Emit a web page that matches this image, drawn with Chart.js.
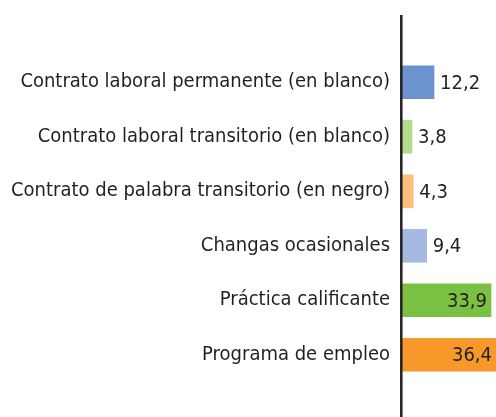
<!DOCTYPE html>
<html>
<head>
<meta charset="utf-8">
<script src="https://cdn.jsdelivr.net/npm/chart.js@4/dist/chart.umd.min.js"></script>
<style>
  html, body { margin: 0; padding: 0; background: #fff; }
  #wrap { width: 496px; height: 417px; }
</style>
</head>
<body>
<div id="wrap"><canvas id="chart"></canvas></div>
<script>
const categories = [
  'Contrato laboral permanente (en blanco)',
  'Contrato laboral transitorio (en blanco)',
  'Contrato de palabra transitorio (en negro)',
  'Changas ocasionales',
  'Práctica calificante',
  'Programa de empleo',
];
const values = [12.2, 3.8, 4.3, 9.4, 33.9, 36.4];
const valueLabels = ['12,2', '3,8', '4,3', '9,4', '33,9', '36,4'];
const barColors = ['#6b93cf', '#b5dc8c', '#fec07d', '#a5b9e1', '#7ac143', '#f7982a'];

const FONT = '"Liberation Sans Narrow", "DejaVu Sans Condensed", sans-serif';
const TEXT = '#231f20';

// vertical axis line, taller than the bars area
const axisLine = {
  id: 'axisLine',
  afterDatasetsDraw(chart) {
    const ctx = chart.ctx;
    const x = chart.scales.x.getPixelForValue(0) - 0.7;
    ctx.save();
    ctx.strokeStyle = TEXT;
    ctx.lineWidth = 2.5;
    ctx.beginPath();
    ctx.moveTo(x, 15);
    ctx.lineTo(x, chart.height);
    ctx.stroke();
    ctx.restore();
  },
};

// values: outside small bars, inside (right aligned) the long ones
const valueText = {
  id: 'valueText',
  afterDatasetsDraw(chart) {
    const ctx = chart.ctx;
    const meta = chart.getDatasetMeta(0);
    ctx.save();
    ctx.font = '20px ' + FONT;
    ctx.fillStyle = TEXT;
    ctx.textBaseline = 'middle';
    meta.data.forEach((bar, i) => {
      const end = chart.scales.x.getPixelForValue(values[i]);
      if (values[i] > 20) {
        ctx.textAlign = 'right';
        ctx.fillText(valueLabels[i], Math.min(end, chart.width) - 4, bar.y + 1.5);
      } else {
        ctx.textAlign = 'left';
        ctx.fillText(valueLabels[i], end + 6, bar.y + 1.5);
      }
    });
    ctx.restore();
  },
};

new Chart(document.getElementById('chart'), {
  type: 'bar',
  data: {
    labels: categories,
    datasets: [{
      data: values,
      backgroundColor: barColors,
      barThickness: 33,
    }],
  },
  options: {
    indexAxis: 'y',
    responsive: true,
    maintainAspectRatio: false,
    animation: false,
    layout: { padding: { top: 55, bottom: 35, left: 0, right: 0 } },
    plugins: {
      legend: { display: false },
      tooltip: { enabled: false },
    },
    scales: {
      x: {
        display: false,
        min: 0,
        max: 35.8,
      },
      y: {
        afterFit(scale) { scale.width = 402; },
        grid: { display: false, drawTicks: false },
        border: { display: false },
        ticks: {
          color: TEXT,
          padding: 12,
          font: { family: FONT, size: 20 },
        },
      },
    },
  },
  plugins: [axisLine, valueText],
});
</script>
</body>
</html>
